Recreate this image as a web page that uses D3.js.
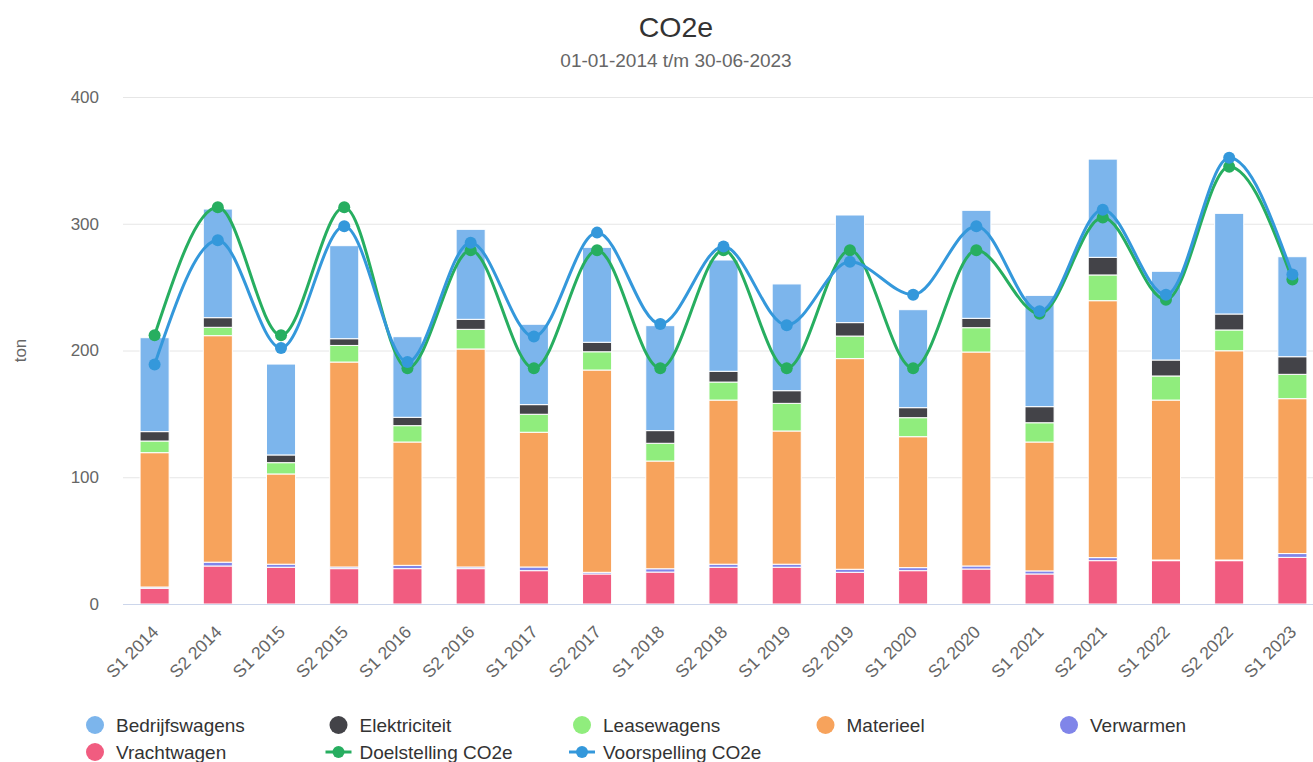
<!DOCTYPE html>
<html>
<head>
<meta charset="utf-8">
<script src="https://cdn.jsdelivr.net/npm/d3@7.9.0/dist/d3.min.js"></script>
<style>
  html, body { margin: 0; padding: 0; overflow: hidden; background: #fff; }
  svg { display: block; font-family: "Liberation Sans", Arial, Helvetica, sans-serif; }
</style>
</head>
<body>
<svg id="chart"></svg>
<script>
const periods = ["S1 2014", "S2 2014", "S1 2015", "S2 2015", "S1 2016", "S2 2016", "S1 2017", "S2 2017",
  "S1 2018", "S2 2018", "S1 2019", "S2 2019", "S1 2020", "S2 2020", "S1 2021", "S2 2021",
  "S1 2022", "S2 2022", "S1 2023"];

// stacked columns (ton)
const bedrijfswagens = [74.1, 85.7, 71.7, 73.4, 63.6, 71, 63.4, 74.9, 82.8, 87.8, 84.2, 84.9, 77.3, 85.2, 87.8, 77.5, 70, 79.4, 78.9];
const elektriciteit = [7.4, 7.6, 6.1, 5.3, 6.6, 7.9, 7.6, 7.5, 10, 8.5, 10, 10.6, 7.9, 7.4, 12.7, 13.9, 12.6, 12.6, 13.9];
const leasewagens = [9.2, 6.6, 8.9, 13.1, 12.9, 15.5, 14.2, 14.4, 14, 14.2, 21.8, 17.8, 15, 19.2, 15.2, 20.3, 19, 16.4, 19.2];
const materieel = [106, 178.7, 71.2, 161.7, 97.3, 172, 106.3, 159.6, 85, 129.5, 105.1, 166.2, 103.3, 168.8, 101.7, 202.7, 126.2, 165.1, 122.2];
const verwarmen = [1, 3, 2.4, 1.3, 2.6, 1.3, 2.9, 1.3, 2.6, 2.4, 2.4, 2.4, 2.4, 2.4, 2.4, 2.4, 0.5, 0.5, 3];
const vrachtwagen = [12.4, 30, 29, 27.9, 27.9, 27.9, 26.3, 23.7, 25.2, 29, 29, 25, 26.3, 27.6, 23.7, 34.2, 34.2, 34.2, 36.8];

// lines
const doelstelling = [212, 313, 212, 313, 186, 279, 186, 279, 186, 279, 186, 279, 186, 279, 229, 305, 240, 345, 256];
const voorspelling = [189, 287, 202, 298, 191, 285, 211, 293, 221, 282, 220, 270, 244, 298, 231, 311, 244, 352, 260];

const yTicks = [0, 100, 200, 300, 400];

const columnSeries = [
  { name: "Bedrijfswagens", color: "#7cb5ec", values: bedrijfswagens },
  { name: "Elektriciteit", color: "#434348", values: elektriciteit },
  { name: "Leasewagens", color: "#90ed7d", values: leasewagens },
  { name: "Materieel", color: "#f7a35c", values: materieel },
  { name: "Verwarmen", color: "#8085e9", values: verwarmen },
  { name: "Vrachtwagen", color: "#f15c80", values: vrachtwagen }
];
const lineSeries = [
  { name: "Doelstelling CO2e", color: "#27ae60", values: doelstelling },
  { name: "Voorspelling CO2e", color: "#3498db", values: voorspelling }
];

const W = 1352, H = 762;
const plotLeft = 123, plotRight = 1324, plotTop = 97, plotBottom = 604;

const svg = d3.select("#chart").attr("width", W).attr("height", H);

// title
svg.append("text")
  .attr("x", W / 2).attr("y", 37)
  .attr("text-anchor", "middle")
  .attr("fill", "#333333")
  .style("font-size", "28.5px")
  .text("CO2e");

svg.append("text")
  .attr("x", W / 2).attr("y", 67)
  .attr("text-anchor", "middle")
  .attr("fill", "#666666")
  .style("font-size", "19px")
  .text("01-01-2014 t/m 30-06-2023");

const x = d3.scaleBand().domain(periods).range([plotLeft, plotRight]).paddingInner(0.54).paddingOuter(0.27);
const y = d3.scaleLinear().domain([0, 400]).range([plotBottom, plotTop]);

// grid + y labels
const yAxis = svg.append("g")
  .attr("transform", `translate(${plotLeft},0)`)
  .call(d3.axisLeft(y).tickValues(yTicks).tickSize(-(plotRight - plotLeft)).tickPadding(24));
yAxis.select(".domain").remove();
yAxis.selectAll(".tick line").attr("stroke", "#e6e6e6");
yAxis.selectAll(".tick text")
  .attr("fill", "#666666")
  .style("font-size", "17px")
  .style("font-family", "'Liberation Sans', Arial, sans-serif");

svg.append("text")
  .attr("transform", `translate(26,${(plotTop + plotBottom) / 2}) rotate(-90)`)
  .attr("text-anchor", "middle")
  .attr("fill", "#666666")
  .style("font-size", "17px")
  .text("ton");

// stacked columns: first series sits on top
const stackOrder = columnSeries.slice().reverse();
const rows = periods.map((p, i) => {
  const r = { period: p };
  stackOrder.forEach(s => { r[s.name] = s.values[i]; });
  return r;
});
const stack = d3.stack().keys(stackOrder.map(s => s.name));
const layers = stack(rows);

svg.append("g")
  .selectAll("g")
  .data(layers)
  .join("g")
  .attr("fill", (d, i) => stackOrder[i].color)
  .selectAll("rect")
  .data(d => d)
  .join("rect")
  .attr("x", d => x(d.data.period))
  .attr("width", x.bandwidth())
  .attr("y", d => y(d[1]))
  .attr("height", d => y(d[0]) - y(d[1]))
  .attr("stroke", "#ffffff")
  .attr("stroke-width", 1);

// x axis
const xAxis = svg.append("g")
  .attr("transform", `translate(0,${plotBottom})`)
  .call(d3.axisBottom(x).tickSize(0));
xAxis.select(".domain").attr("stroke", "#ccd6eb").attr("d", `M${plotLeft},0.5H${W}`);
xAxis.selectAll(".tick text")
  .attr("x", 0).attr("y", 0).attr("dy", 0)
  .attr("text-anchor", "end")
  .attr("transform", "translate(5,29) rotate(-45)")
  .attr("fill", "#666666")
  .style("font-size", "17.5px")
  .style("font-family", "'Liberation Sans', Arial, sans-serif");

// spline lines
const line = d3.line()
  .x((d, i) => x(periods[i]) + x.bandwidth() / 2)
  .y(d => y(d))
  .curve(d3.curveMonotoneX);

lineSeries.forEach(s => {
  const g = svg.append("g");
  g.append("path")
    .attr("d", line(s.values))
    .attr("fill", "none")
    .attr("stroke", s.color)
    .attr("stroke-width", 3);
  g.selectAll("circle")
    .data(s.values)
    .join("circle")
    .attr("cx", (d, i) => x(periods[i]) + x.bandwidth() / 2)
    .attr("cy", d => y(d))
    .attr("r", 6)
    .attr("fill", s.color);
});

// legend
const legendItems = columnSeries.map(s => ({ ...s, type: "column" }))
  .concat(lineSeries.map(s => ({ ...s, type: "line" })));
const colX = 95, colStep = 243.5, rowY = [725, 752];

const legend = svg.append("g")
  .selectAll("g")
  .data(legendItems)
  .join("g")
  .attr("transform", (d, i) => `translate(${colX + (i % 5) * colStep},${rowY[Math.floor(i / 5)]})`);

legend.filter(d => d.type === "column")
  .append("circle")
  .attr("r", 9)
  .attr("fill", d => d.color);

legend.filter(d => d.type === "line")
  .append("line")
  .attr("x1", -13).attr("x2", 13)
  .attr("stroke", d => d.color)
  .attr("stroke-width", 3);
legend.filter(d => d.type === "line")
  .append("circle")
  .attr("r", 6)
  .attr("fill", d => d.color);

legend.append("text")
  .attr("x", 21).attr("y", 7)
  .attr("fill", "#333333")
  .style("font-size", "19px")
  .text(d => d.name);
</script>
</body>
</html>
